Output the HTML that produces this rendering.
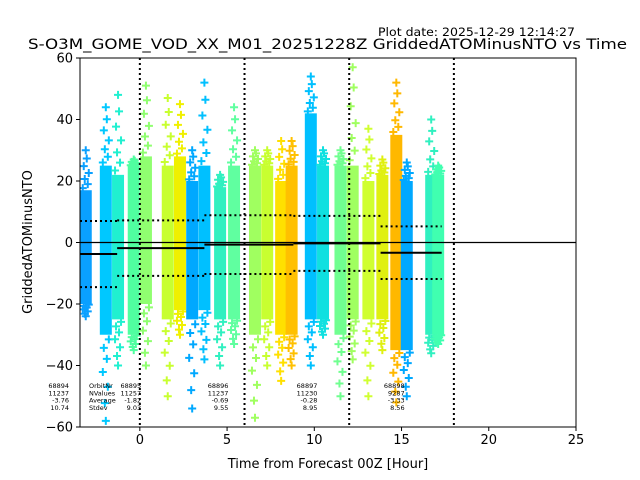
<!DOCTYPE html>
<html><head><meta charset="utf-8"><style>
html,body{margin:0;padding:0;background:#fff;}
svg{display:block;font-family:"DejaVu Sans","Liberation Sans",sans-serif;}
</style></head><body>
<svg id="chart" width="640" height="480" viewBox="0 0 640 480" xmlns="http://www.w3.org/2000/svg">
<text x="378" y="36" font-size="11.5" textLength="197" lengthAdjust="spacingAndGlyphs">Plot date: 2025-12-29 12:14:27</text>
<text x="28" y="49" font-size="14.5" textLength="599" lengthAdjust="spacingAndGlyphs">S-O3M_GOME_VOD_XX_M01_20251228Z GriddedATOMinusNTO vs Time</text>
<text x="328" y="468" font-size="13" text-anchor="middle">Time from Forecast 00Z [Hour]</text>
<text transform="translate(32,242) rotate(-90)" font-size="13" text-anchor="middle">GriddedATOMinusNTO</text>
<g id="marks"></g>
</svg>
<script>
// ---- data ----
const colHours = [-3.1,-1.95,-1.25,-0.35,0.35,1.6,2.3,3.0,3.7,4.6,5.4,6.6,7.3,8.1,8.7,9.8,10.5,11.5,12.2,13.1,13.9,14.7,15.3,16.7,17.1];
const colLo    = [-20,-30,-25,-30,-20,-25,-22,-25,-22,-25,-25,-30,-25,-30,-30,-25,-25,-30,-25,-25,-25,-35,-35,-30,-30];
const colHi    = [17,25,22,25,28,25,28,20,25,18,25,25,25,20,25,42,25,25,25,20,22,35,20,22,22];
const colMin   = [-24,-58,-40,-35,-40,-50,-30,-54,-38,-40,-33,-57,-40,-45,-40,-40,-30,-50,-38,-50,-35,-52,-50,-36,-33];
const colMax   = [30,44,48,27,51,47,45,30,52,22,44,30,30,33,33,54,30,30,57,37,27,52,26,40,25];
const colColors= ["#0aa0ff","#00c8ff","#20f0d0","#50ffa0","#90ff70","#c8ff30","#f0f000","#00a8ff","#00c0ff","#30f0c0","#60ffa0","#a0ff60","#c8ff30","#ffe000","#ffc000","#00c0ff","#10e0e0","#70ff90","#a0ff60","#d0ff30","#e0f010","#ffb800","#00a8ff","#30f0c0","#40ffb0"];
const orbitNr    = ["68894","68895","68896","68897","68898"];
const orbitN     = ["11237","11257","11237","11230","9287"];
const orbitStart = [-3.43,-1.3,3.7,8.8,13.8];
const orbitEnd   = [-1.3,3.7,8.8,13.8,17.3];
const orbitMean  = [-3.76,-1.82,-0.69,-0.28,-3.33];
const orbitStd   = [10.74,9.03,9.55,8.95,8.56];
const xTicks = [0,5,10,15,20,25];
const yTicks = [-60,-40,-20,0,20,40,60];
const vLines = [0,6,12,18];
// ---- axes ----
const L=80,R=576,T=58,B=427,xmin=-3.43,xmax=25,ymin=-60,ymax=60;
const X=v=>L+(v-xmin)/(xmax-xmin)*(R-L);
const Y=v=>B-(v-ymin)/(ymax-ymin)*(B-T);
const NS="http://www.w3.org/2000/svg";
const g=document.getElementById('marks');
function mk(tag,attrs,parent){const e=document.createElementNS(NS,tag);for(const k in attrs)e.setAttribute(k,attrs[k]);(parent||g).appendChild(e);return e;}
const clip=mk('clipPath',{id:'pc'});mk('rect',{x:L,y:T,width:R-L,height:B-T},clip);
const pg=mk('g',{'clip-path':'url(#pc)'});


function plus(x,y,c){
  const p=mk('path',{d:`M${x-4},${y}h8M${x},${y-4}v8`,stroke:c,'stroke-width':2,fill:'none'},pg);
  
  
}
colHours.forEach((h,i)=>{
  const cx=X(h),c=colColors[i];
  const r=mk('rect',{x:cx-6,y:Y(colHi[i]),width:12,height:Y(colLo[i])-Y(colHi[i]),fill:c},pg);
  
  
  const steps=7;
  for(let k=1;k<=steps;k++){
    const f=Math.pow(k/steps,1.5);
    const dx=[-3,2,-1,3,-2,1,0][k-1];
    plus(cx+dx,Y(colHi[i]+(colMax[i]-colHi[i])*f),c);
    plus(cx-dx,Y(colLo[i]+(colMin[i]-colLo[i])*f),c);
  }
});
const z=mk('line',{x1:L,x2:R,y1:Y(0),y2:Y(0),stroke:'#000','stroke-width':1.2},pg);


vLines.forEach(v=>{
  const l=mk('line',{x1:X(v),x2:X(v),y1:T,y2:B,stroke:'#000','stroke-width':2,'stroke-dasharray':'2,3'},pg);
  
  
});
orbitMean.forEach((m,i)=>{
  const x1=X(orbitStart[i]),x2=X(orbitEnd[i]);
  const a=mk('line',{x1,x2,y1:Y(m),y2:Y(m),stroke:'#000','stroke-width':2},pg);
  
  
  [m+orbitStd[i],m-orbitStd[i]].forEach(v=>{
    const d=mk('line',{x1,x2,y1:Y(v),y2:Y(v),stroke:'#000','stroke-width':2,'stroke-dasharray':'2,3'},pg);
    
    
  });
  const tx=i==0?69:X(orbitStart[i])+24;
  const vals=[orbitNr[i],orbitN[i],m.toFixed(2),orbitStd[i].toFixed(2)];
  vals.forEach((s,k)=>{
    const t=mk('text',{x:tx,y:388+k*7.3,'font-size':6.5,'text-anchor':'end',fill:'#000'});
    t.textContent=s;
    
    
  });
});
["OrbitNr","NValues","Average","Stdev"].forEach((s,k)=>{
  const t=mk('text',{x:89,y:388+k*7.3,'font-size':6.5,fill:'#000'});
  t.textContent=s;
  
  
});
const f=mk('rect',{x:L,y:T,width:R-L,height:B-T,fill:'none',stroke:'#000','stroke-width':1});


xTicks.forEach(v=>{
  const l=mk('line',{x1:X(v),x2:X(v),y1:B,y2:B+4,stroke:'#000'});
  
  
  const t=mk('text',{x:X(v),y:B+17,'font-size':13,'text-anchor':'middle'});
  t.textContent=v;
  
  
});
yTicks.forEach(v=>{
  const l=mk('line',{x1:L-4,x2:L,y1:Y(v),y2:Y(v),stroke:'#000'});
  
  
  const t=mk('text',{x:L-7,y:Y(v)+4.5,'font-size':13,'text-anchor':'end'});
  t.textContent=v<0?'\u2212'+(-v):v;
  
  
});
</script>
</body></html>
